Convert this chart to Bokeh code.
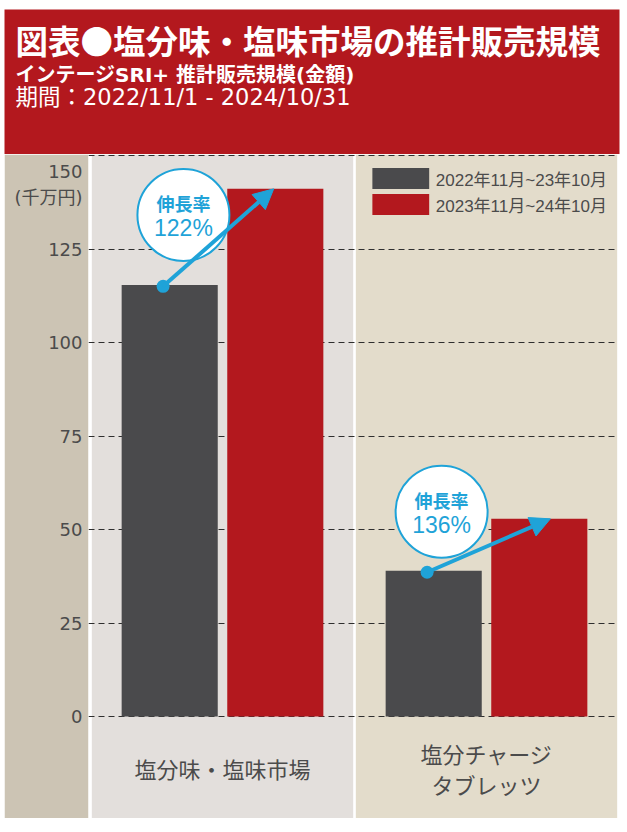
from bokeh.plotting import figure
from bokeh.models import (Range1d, FixedTicker, Arrow, NormalHead, Legend,
                          LegendItem, ColumnDataSource)
from bokeh.layouts import column
from bokeh.core.properties import value
from bokeh.embed import file_html
from bokeh.resources import INLINE

# ---------------- data ----------------
categories = ["塩分味・塩味市場", "塩分チャージ\nタブレッツ"]
series_labels = ["2022年11月~23年10月", "2023年11月~24年10月"]
sales_prev = [115.5, 39.0]      # 千万円
sales_curr = [141.2, 52.9]      # 千万円
y_ticks = [0, 25, 50, 75, 100, 125, 150]
y_unit = "(千万円)"
growth_label = "伸長率"
title_text = "図表●塩分味・塩味市場の推計販売規模"
subtitle_text = "インテージSRI+ 推計販売規模(金額)"
period_text = "期間：2022/11/1 - 2024/10/31"

# ---------------- style ----------------
RED = "#b3181e"
GRAY = "#4a4a4c"
STRIP = "#ccc4b4"
PANEL = ["#e3dfdc", "#e3dccb"]
CYAN = "#1fa3d8"
TXT = "#4b4b4b"
JP = "Noto Sans CJK JP"
MIX = "DejaVu Sans, Noto Sans CJK JP"
NUM = "Liberation Sans, Noto Sans CJK JP"

W = 627
HEADER_H = 154
PX_X = 264.0          # px per category unit
PX_Y = 3.737          # px per 千万円
Y_TOP = (716 - 154) / PX_Y
Y_BOT = -(818 - 716) / PX_Y

n = len(categories)

# ---------------- header ----------------
hdr = figure(width=W, height=HEADER_H, x_range=Range1d(0, 615), y_range=Range1d(HEADER_H - 9, 0),
             x_axis_location=None, y_axis_location=None, toolbar_location=None,
             output_backend="svg", min_border_left=4, min_border_right=8,
             min_border_top=9, min_border_bottom=0, background_fill_color=RED,
             border_fill_color="white", outline_line_color=None, frame_align=False)
hdr.grid.visible = False
hdr.text(x=[11], y=[30], text=[title_text], text_font=value(JP), text_font_size="32.5px",
         text_font_style="bold", text_color="white", text_baseline="middle", text_align="left")
hdr.text(x=[11], y=[65.5], text=[subtitle_text], text_font=value(MIX), text_font_size="20px",
         text_font_style="bold", text_color="white", text_baseline="middle", text_align="left")
hdr.text(x=[11], y=[87], text=[period_text], text_font=value(MIX), text_font_size="22.5px",
         text_color="white", text_baseline="middle", text_align="left")

# ---------------- main chart ----------------
p = figure(width=614, height=664, x_range=Range1d(-2 / PX_X, 2), y_range=Range1d(Y_BOT, Y_TOP),
           x_axis_location=None, toolbar_location=None, output_backend="svg",
           min_border_left=84, min_border_right=0, min_border_top=0, min_border_bottom=0,
           border_fill_color=STRIP, background_fill_color="white", outline_line_color=None,
           margin=(0, 9, 14, 4), frame_align=False)

# category panels
SEP = 0.005
p.quad(left=[i + SEP for i in range(n)], right=[i + 1 - SEP for i in range(n)],
       bottom=Y_BOT, top=Y_TOP, fill_color=PANEL, line_color=None, level="image")

# grid
p.xgrid.visible = False
p.ygrid.ticker = FixedTicker(ticks=y_ticks)
p.ygrid.grid_line_color = "#2e2e2e"
p.ygrid.grid_line_dash = "6 4"
p.ygrid.grid_line_width = 1

# y axis: the top value and the unit sit just below the top grid line
top_lbl_pos = y_ticks[-1] - 16 / PX_Y
unit_lbl_pos = y_ticks[-1] - 42 / PX_Y
axis_ticks = y_ticks[:-1] + [top_lbl_pos, unit_lbl_pos]
p.yaxis.ticker = FixedTicker(ticks=axis_ticks)
p.yaxis.major_label_overrides = {top_lbl_pos: str(y_ticks[-1]), unit_lbl_pos: y_unit}
p.yaxis.axis_line_color = None
p.yaxis.major_tick_line_color = None
p.yaxis.minor_tick_line_color = None
p.yaxis.major_tick_out = 0
p.yaxis.major_tick_in = 0
p.yaxis.major_label_standoff = 6
p.yaxis.major_label_text_font = MIX
p.yaxis.major_label_text_font_size = "18px"
p.yaxis.major_label_text_color = TXT

# bars
OFF = 0.2
BW = 0.364
src = ColumnDataSource(dict(
    xp=[i + 0.5 - OFF for i in range(n)],
    xc=[i + 0.5 + OFF for i in range(n)],
    prev=sales_prev, curr=sales_curr))
r_prev = p.vbar(x="xp", top="prev", bottom=0, width=BW, fill_color=GRAY, line_color=None, source=src)
r_curr = p.vbar(x="xc", top="curr", bottom=0, width=BW, fill_color=RED, line_color=None, source=src)

# legend
legend = Legend(items=[LegendItem(label=series_labels[0], renderers=[r_prev]),
                       LegendItem(label=series_labels[1], renderers=[r_curr])],
                location="top_right", margin=11, padding=0, spacing=0,
                glyph_width=71, glyph_height=26, label_standoff=0, label_height=26,
                label_text_font=NUM, label_text_font_size="17px", label_text_color=TXT,
                label_text_baseline="middle", background_fill_alpha=0, border_line_alpha=0)
p.add_layout(legend)

# growth bubbles + arrows
ARROW_DX = [0.194, 0.242]
BUB_DX = [-0.148, -0.17]
BUB_DY = [18.7, 15.8]
dot_x = [i + 0.5 - 0.225 for i in range(n)]
dot_y = [v - 0.4 for v in sales_prev]
bub_x = [i + 0.5 + BUB_DX[i] for i in range(n)]
bub_y = [sales_prev[i] + BUB_DY[i] for i in range(n)]
pct = [f"{round(c / v * 100)}%" for v, c in zip(sales_prev, sales_curr)]

p.scatter(x=bub_x, y=bub_y, size=92, fill_color="white", line_color=CYAN, line_width=2)
p.text(x=bub_x, y=bub_y, text=[growth_label] * n, y_offset=-12, text_align="center",
       text_baseline="middle", text_font=value(JP), text_font_size="18px",
       text_font_style="bold", text_color=CYAN)
p.text(x=bub_x, y=bub_y, text=pct, y_offset=13, text_align="center",
       text_baseline="middle", text_font=value(NUM), text_font_size="23px", text_color=CYAN)

for i in range(n):
    p.add_layout(Arrow(end=NormalHead(size=20, fill_color=CYAN, line_color=CYAN),
                       x_start=dot_x[i], y_start=dot_y[i],
                       x_end=i + 0.5 + ARROW_DX[i], y_end=sales_curr[i],
                       line_color=CYAN, line_width=4))
p.scatter(x=dot_x, y=dot_y, size=13, fill_color=CYAN, line_color=None)

# category labels
p.text(x=[i + 0.5 for i in range(n)], y=[-13.9] * n, text=categories, text_align="center",
       text_baseline="middle", text_font=value(JP), text_font_size="22px", text_color=TXT,
       text_line_height=0.97)

layout = column(hdr, p)
open("out.html", "w").write(file_html(layout, INLINE))
